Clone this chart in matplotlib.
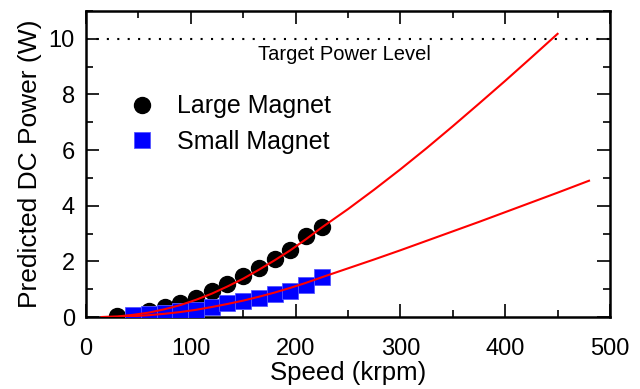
import matplotlib
matplotlib.use("Agg")
import matplotlib.pyplot as plt
from matplotlib.ticker import MultipleLocator

plt.rcParams['font.family'] = ['Liberation Sans', 'DejaVu Sans']

# Measured data
speed_large = [30, 60, 75, 90, 105, 120, 135, 150, 165, 180, 195, 210, 225]
power_large = [0.03, 0.2, 0.35, 0.52, 0.7, 0.95, 1.2, 1.47, 1.77, 2.07, 2.41, 2.91, 3.23]

speed_small = [45, 60, 75, 90, 105, 120, 135, 150, 165, 180, 195, 210, 225]
power_small = [0.07, 0.12, 0.16, 0.2, 0.26, 0.36, 0.5, 0.56, 0.7, 0.82, 0.92, 1.15, 1.43]

# Fit curves
fit_large_x = [15, 30, 45, 60, 75, 90, 105, 120, 135, 150, 165, 180, 195, 210, 225,
               250, 275, 300, 325, 350, 375, 400, 425, 450]
fit_large_y = [0, 0.02, 0.08, 0.16, 0.28, 0.43, 0.62, 0.84, 1.1, 1.38, 1.7, 2.04, 2.4, 2.8, 3.22,
               3.88, 4.58, 5.31, 6.07, 6.86, 7.67, 8.49, 9.33, 10.18]
fit_small_x = [15, 30, 45, 60, 75, 90, 105, 120, 135, 150, 165, 180, 195, 210, 225,
               250, 275, 300, 325, 350, 375, 400, 425, 450, 480]
fit_small_y = [0, 0.007, 0.03, 0.066, 0.117, 0.18, 0.26, 0.36, 0.47, 0.59, 0.73, 0.88, 1.05, 1.23, 1.43,
               1.75, 2.07, 2.4, 2.74, 3.08, 3.42, 3.77, 4.12, 4.47, 4.9]

target_level = 10

fig = plt.figure(figsize=(6.4, 3.89), dpi=100)
ax = fig.add_axes([0.1344, 0.185, 0.8187, 0.7867])

ax.plot(speed_large, power_large, 'o', color='black', markersize=11.5, label='Large Magnet', zorder=3)
ax.plot(speed_small, power_small, 's', color='#0000ff', markeredgecolor='#5555ff', markeredgewidth=0.6,
        markersize=11, label='Small Magnet', zorder=4)
ax.plot(fit_large_x, fit_large_y, '-', color='#ff0000', linewidth=1.5, zorder=5)
ax.plot(fit_small_x, fit_small_y, '-', color='#ff0000', linewidth=1.5, zorder=5)
ax.axhline(target_level, color='black', linestyle=(0, (1, 4)), linewidth=1.5, zorder=2)
ax.text(247, 9.42, 'Target Power Level', fontsize=14.5, ha='center', va='center')

ax.set_xlim(0, 500)
ax.set_ylim(0, 11)
ax.xaxis.set_major_locator(MultipleLocator(100))
ax.xaxis.set_minor_locator(MultipleLocator(50))
ax.yaxis.set_major_locator(MultipleLocator(2))
ax.yaxis.set_minor_locator(MultipleLocator(1))
ax.tick_params(which='both', direction='in', top=True, right=True, width=1.2, labelsize=17)
ax.tick_params(which='major', length=9.5)
ax.tick_params(which='minor', length=5)
ax.tick_params(axis='y', which='major', pad=8)
ax.tick_params(axis='x', which='major', pad=15)
for s in ax.spines.values():
    s.set_linewidth(1.8)

ax.set_xlabel('Speed (krpm)', fontsize=18.5, labelpad=1)
ax.set_ylabel('Predicted DC Power (W)', fontsize=19, labelpad=5)

ax.legend(loc='upper left', bbox_to_anchor=(0.063, 0.76), frameon=False, fontsize=18,
          handlelength=1.0, handletextpad=0.9, labelspacing=0.45, borderaxespad=0)

fig.savefig('out.png', dpi=100)
